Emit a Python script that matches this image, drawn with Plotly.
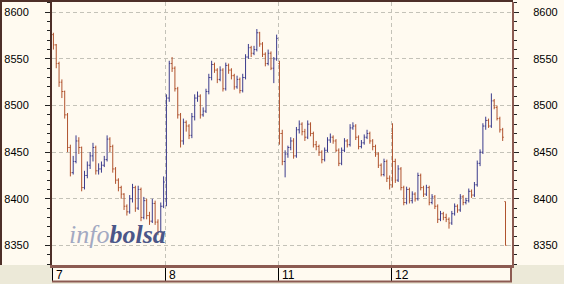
import plotly.graph_objects as go

# ---------------- data ----------------
day_labels = ["7", "8", "11", "12"]
slots_per_day = 40

opens7 = [8576, 8565, 8545, 8525, 8515, 8490, 8455, 8428, 8440, 8462, 8455, 8412, 8425, 8436, 8446, 8455, 8430, 8432, 8436, 8442,
          8464, 8456, 8432, 8420, 8412, 8405, 8392, 8386, 8400, 8412, 8390, 8410, 8380, 8398, 8382, 8376, 8395, 8375, 8365, 8392]
highs7 = [8578, 8566, 8547, 8528, 8516, 8492, 8458, 8446, 8468, 8466, 8456, 8430, 8440, 8450, 8460, 8457, 8438, 8440, 8446, 8468,
          8466, 8458, 8434, 8422, 8414, 8406, 8394, 8404, 8416, 8414, 8414, 8412, 8402, 8400, 8386, 8400, 8398, 8378, 8396, 8424]
lows7 = [8560, 8540, 8520, 8508, 8486, 8450, 8424, 8426, 8438, 8448, 8408, 8410, 8422, 8432, 8440, 8426, 8426, 8428, 8434, 8440,
         8450, 8428, 8416, 8408, 8400, 8388, 8382, 8384, 8396, 8386, 8388, 8376, 8378, 8378, 8372, 8374, 8372, 8361, 8364, 8390]
closes7 = [8565, 8545, 8525, 8515, 8490, 8455, 8428, 8440, 8462, 8455, 8412, 8425, 8436, 8446, 8455, 8430, 8432, 8436, 8442, 8464,
           8456, 8432, 8420, 8412, 8405, 8392, 8386, 8400, 8412, 8390, 8410, 8380, 8398, 8382, 8376, 8395, 8375, 8365, 8392, 8418]

opens8 = [8400, 8508, 8545, 8540, 8518, 8490, 8462, 8482, 8478, 8468, 8488, 8508, 8510, 8490, 8494, 8515, 8530, 8544, 8538, 8528,
          8538, 8518, 8543, 8538, 8532, 8520, 8528, 8516, 8530, 8552, 8562, 8556, 8560, 8578, 8566, 8555, 8545, 8556, 8540, 8550]
highs8 = [8512, 8548, 8552, 8542, 8520, 8492, 8486, 8484, 8480, 8492, 8512, 8515, 8512, 8498, 8518, 8534, 8548, 8546, 8540, 8542,
          8540, 8546, 8545, 8540, 8534, 8532, 8530, 8534, 8555, 8566, 8564, 8564, 8582, 8579, 8568, 8557, 8560, 8558, 8552, 8576]
lows8 = [8392, 8504, 8536, 8515, 8486, 8455, 8458, 8472, 8464, 8465, 8484, 8504, 8486, 8488, 8492, 8512, 8527, 8535, 8524, 8526,
         8515, 8516, 8534, 8528, 8517, 8518, 8513, 8514, 8528, 8550, 8552, 8554, 8558, 8563, 8552, 8542, 8543, 8538, 8524, 8548]
closes8 = [8508, 8545, 8540, 8518, 8490, 8462, 8482, 8478, 8468, 8488, 8508, 8510, 8490, 8494, 8515, 8530, 8544, 8538, 8528, 8538,
           8518, 8543, 8538, 8532, 8520, 8528, 8516, 8530, 8552, 8562, 8556, 8560, 8578, 8566, 8555, 8545, 8556, 8540, 8550, 8572]

opens11 = [8545, 8470, 8440, 8448, 8455, 8462, 8446, 8474, 8480, 8472, 8466, 8480, 8470, 8458, 8456, 8450, 8442, 8452, 8463, 8466,
           8462, 8452, 8438, 8452, 8462, 8458, 8476, 8478, 8466, 8456, 8460, 8466, 8470, 8462, 8456, 8448, 8436, 8426, 8440, 8422]
highs11 = [8548, 8474, 8452, 8457, 8466, 8465, 8477, 8484, 8482, 8475, 8484, 8482, 8472, 8462, 8458, 8452, 8455, 8466, 8470, 8468,
           8464, 8454, 8455, 8465, 8464, 8480, 8482, 8480, 8468, 8463, 8469, 8474, 8472, 8464, 8458, 8450, 8438, 8443, 8442, 8425]
lows11 = [8458, 8436, 8423, 8444, 8452, 8443, 8444, 8470, 8468, 8462, 8464, 8467, 8455, 8452, 8446, 8438, 8440, 8450, 8460, 8459,
          8450, 8435, 8436, 8450, 8455, 8456, 8474, 8463, 8453, 8454, 8458, 8464, 8459, 8452, 8445, 8433, 8424, 8424, 8418, 8410]
closes11 = [8470, 8440, 8448, 8455, 8462, 8446, 8474, 8480, 8472, 8466, 8480, 8470, 8458, 8456, 8450, 8442, 8452, 8463, 8466, 8462,
            8452, 8438, 8452, 8462, 8458, 8476, 8478, 8466, 8456, 8460, 8466, 8470, 8462, 8456, 8448, 8436, 8426, 8440, 8422, 8415]

opens12 = [8470, 8440, 8420, 8432, 8412, 8396, 8410, 8398, 8405, 8400, 8425, 8412, 8405, 8412, 8396, 8402, 8392, 8378, 8384, 8380,
           8378, 8374, 8384, 8392, 8388, 8402, 8396, 8398, 8408, 8404, 8415, 8438, 8450, 8478, 8484, 8478, 8505, 8498, 8486, 8474, 8397]
highs12 = [8481, 8443, 8436, 8434, 8414, 8413, 8412, 8408, 8407, 8428, 8427, 8414, 8415, 8414, 8405, 8404, 8394, 8387, 8386, 8384,
           8380, 8387, 8395, 8394, 8405, 8404, 8401, 8411, 8410, 8418, 8441, 8453, 8481, 8488, 8486, 8513, 8507, 8500, 8488, 8476, 8397]
lows12 = [8412, 8417, 8418, 8409, 8393, 8394, 8395, 8395, 8397, 8398, 8409, 8402, 8403, 8393, 8394, 8389, 8374, 8376, 8377, 8375,
          8368, 8372, 8382, 8385, 8386, 8393, 8394, 8396, 8401, 8402, 8413, 8435, 8448, 8474, 8476, 8476, 8496, 8484, 8471, 8462, 8350]
closes12 = [8440, 8420, 8432, 8412, 8396, 8410, 8398, 8405, 8400, 8425, 8412, 8405, 8412, 8396, 8402, 8392, 8378, 8384, 8380, 8378,
            8374, 8384, 8392, 8388, 8402, 8396, 8398, 8408, 8404, 8415, 8438, 8450, 8478, 8484, 8478, 8505, 8498, 8486, 8474, 8466, 8350]

y_ticks = [8350, 8400, 8450, 8500, 8550, 8600]

# ---------------- assemble ----------------
days = [(opens7, highs7, lows7, closes7), (opens8, highs8, lows8, closes8),
        (opens11, highs11, lows11, closes11), (opens12, highs12, lows12, closes12)]
X, O, H, L, C = [], [], [], [], []
for d, (o, h, l, c) in enumerate(days):
    for i in range(len(o)):
        X.append(d * slots_per_day + i + 0.5)
        O.append(o[i]); H.append(h[i]); L.append(l[i]); C.append(c[i])

day_starts = [d * slots_per_day for d in range(len(day_labels))]
XMAX = 162.8

BLUE = "#3b3b8c"
BROWN = "#b0532e"
CREAM = "#fffaf0"
GRAY = "#ece9d8"
DARK = "#4e2f28"
ROSE = "#8c5b52"
GRID = "#c4c2b8"

fig = go.Figure()
fig.add_trace(go.Ohlc(
    x=X, open=O, high=H, low=L, close=C,
    increasing=dict(line=dict(color=BLUE, width=1)),
    decreasing=dict(line=dict(color=BROWN, width=1)),
    tickwidth=0.4, hoverinfo="skip", showlegend=False,
))
fig.add_trace(go.Scatter(x=[None], y=[None], yaxis="y2", showlegend=False, hoverinfo="skip"))

W, Hh = 564, 284
L_M, R_M, T_M, B_M = 52, 52, 2, 19
PW = W - L_M - R_M
PH = Hh - T_M - B_M


def px(xp):
    return (xp - L_M) / PW


def py(yp):
    return (Hh - B_M - yp) / PH


shapes = [
    dict(type="rect", xref="paper", yref="paper", x0=px(0), x1=px(52), y0=py(265), y1=py(284),
         fillcolor=GRAY, line=dict(width=0), layer="below"),
    dict(type="rect", xref="paper", yref="paper", x0=px(511), x1=px(564), y0=py(265), y1=py(284),
         fillcolor=GRAY, line=dict(width=0), layer="below"),
    dict(type="rect", xref="paper", yref="paper", x0=px(0), x1=px(564), y0=py(282), y1=py(284),
         fillcolor=GRAY, line=dict(width=0), layer="below"),
    dict(type="line", xref="paper", yref="paper", x0=px(0), x1=px(513), y0=py(1), y1=py(1),
         line=dict(color=DARK, width=2)),
    dict(type="line", xref="paper", yref="paper", x0=px(1), x1=px(1), y0=py(0), y1=py(265),
         line=dict(color=DARK, width=2)),
    dict(type="line", xref="paper", yref="paper", x0=px(52), x1=px(512), y0=py(281.5), y1=py(281.5),
         line=dict(color=ROSE, width=2)),
    dict(type="line", xref="paper", yref="paper", x0=px(511), x1=px(511), y0=py(265), y1=py(282),
         line=dict(color=ROSE, width=2)),
]

annotations = []
for xs, lab in zip(day_starts, day_labels):
    annotations.append(dict(x=xs, xref="x", y=py(274.5), yref="paper", text=lab, showarrow=False,
                            xanchor="left", yanchor="middle", xshift=2,
                            font=dict(family="Liberation Sans, Arial", size=12, color="#000000")))
annotations.append(dict(
    x=px(67), y=py(251), xref="paper", yref="paper", xanchor="left", yanchor="bottom", showarrow=False,
    text="<i><span style='color:#a3a9c2'>info</span><b><span style='color:#4b5688'>bolsa</span></b></i>",
    font=dict(family="Liberation Serif, DejaVu Serif, serif", size=26)))

yax_common = dict(
    range=[8329, 8611], tickvals=y_ticks, ticks="outside", ticklen=5, tickwidth=1, tickcolor="#222222",
    minor=dict(ticks="outside", ticklen=3, dtick=10, tickcolor="#222222", showgrid=False),
    tickfont=dict(family="Liberation Sans, Arial", size=11, color="#000000"),
    zeroline=False, showline=True, linewidth=2, fixedrange=True,
)

fig.update_layout(
    width=W, height=Hh, margin=dict(l=L_M, r=R_M, t=T_M, b=B_M, pad=0),
    paper_bgcolor=CREAM, plot_bgcolor=CREAM,
    showlegend=False,
    xaxis=dict(range=[0, XMAX], tickvals=day_starts, showticklabels=False,
               ticks="outside", ticklen=14, tickwidth=1, tickcolor="#000000",
               showgrid=True, gridcolor=GRID, griddash="4px,3px", gridwidth=1,
               showline=True, linecolor=ROSE, linewidth=3, zeroline=False,
               rangeslider=dict(visible=False), fixedrange=True),
    yaxis=dict(**yax_common, side="left", linecolor=DARK,
               showgrid=True, gridcolor=GRID, griddash="4px,3px", gridwidth=1,
               ticklabelstandoff=14),
    yaxis2=dict(**yax_common, side="right", overlaying="y", matches="y", linecolor=ROSE,
                showgrid=False, ticklabelstandoff=12),
    shapes=shapes, annotations=annotations,
)

fig.write_html("out.html")
